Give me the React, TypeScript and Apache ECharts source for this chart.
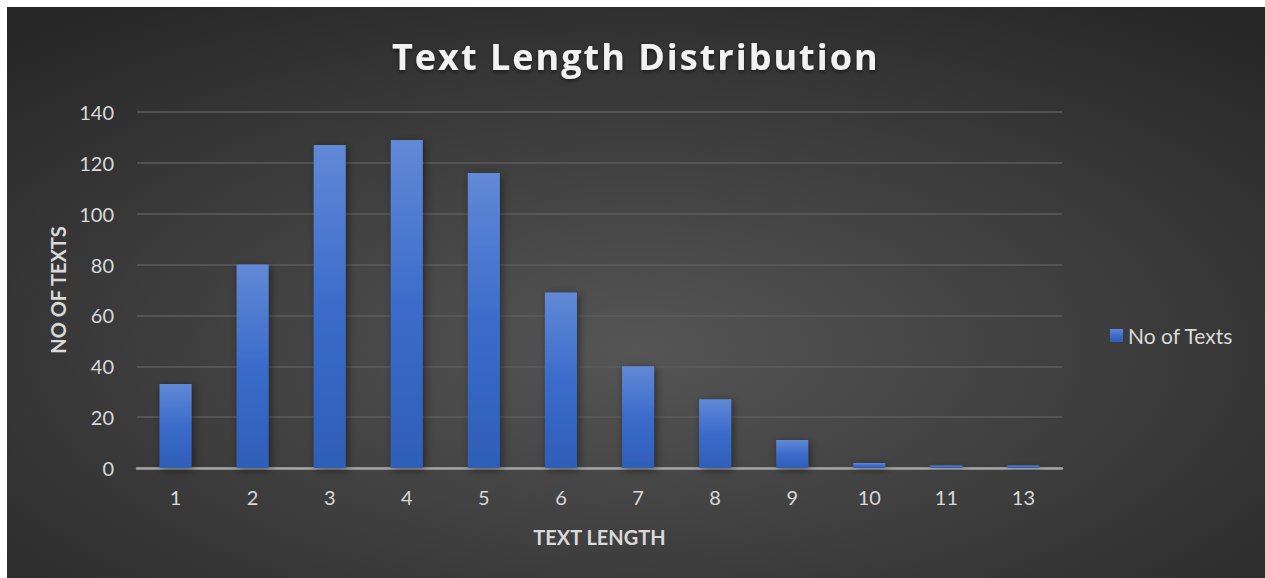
import React, { useEffect, useRef } from "react";
import * as echarts from "echarts";

const categories = ["1", "2", "3", "4", "5", "6", "7", "8", "9", "10", "11", "13"];
const noOfTexts = [33, 80, 127, 129, 116, 69, 40, 27, 11, 2, 1, 1];
const chartTitle = "Text Length Distribution";
const xAxisName = "TEXT LENGTH";
const yAxisName = "NO OF TEXTS";
const seriesName = "No of Texts";

export default function App() {
  const ref = useRef<HTMLDivElement>(null);
  useEffect(() => {
    document.documentElement.style.overflow = "hidden";
    document.body.style.overflow = "hidden";
    if (!ref.current) return;
    const chart = echarts.init(ref.current, null, { renderer: "svg" });
    const font = "Lato, 'Open Sans', sans-serif";
    chart.setOption({
      animation: false,
      backgroundColor: {
        type: "radial",
        x: 0.5,
        y: 0.6,
        r: 0.75,
        colorStops: [
          { offset: 0, color: "#555555" },
          { offset: 1, color: "#262626" },
        ],
      },
      title: {
        text: chartTitle,
        left: 380,
        top: 26,
        textStyle: {
          color: "#f2f2f2",
          fontSize: 36,
          fontWeight: "bold",
          fontFamily: "'Open Sans', Lato, sans-serif",
          textShadowColor: "rgba(0,0,0,0.5)",
          textShadowBlur: 4,
          textShadowOffsetY: 2,
        },
      },
      legend: {
        data: [seriesName],
        left: 1098,
        top: 313,
        orient: "vertical",
        itemWidth: 13,
        itemHeight: 13,
        itemGap: 6,
        textStyle: { color: "#d9d9d9", fontSize: 21, fontFamily: font },
        icon: "rect",
      },
      grid: { left: 130, top: 105, right: 203, bottom: 110, containLabel: false },
      xAxis: {
        type: "category",
        data: categories,
        name: xAxisName,
        nameLocation: "middle",
        nameGap: 59,
        nameTextStyle: { color: "#d9d9d9", fontSize: 20, fontWeight: "bold", fontFamily: font },
        axisTick: { show: false },
        axisLine: { lineStyle: { color: "#a6a6a6", width: 2.5 } },
        axisLabel: { color: "#d9d9d9", fontSize: 20, margin: 19, fontFamily: font },
      },
      yAxis: {
        type: "value",
        min: 0,
        max: 140,
        interval: 20,
        name: yAxisName,
        nameLocation: "middle",
        nameGap: 68,
        nameTextStyle: { color: "#d9d9d9", fontSize: 20, fontWeight: "bold", fontFamily: font },
        axisLine: { show: false },
        axisTick: { show: false },
        axisLabel: { color: "#d9d9d9", fontSize: 20, margin: 23, fontFamily: font },
        splitLine: { lineStyle: { color: "#5c5c5c", width: 1.5 } },
      },
      series: [
        {
          name: seriesName,
          type: "bar",
          data: noOfTexts,
          barWidth: 32,
          itemStyle: {
            color: {
              type: "linear",
              x: 0,
              y: 0,
              x2: 0,
              y2: 1,
              colorStops: [
                { offset: 0, color: "#6189d6" },
                { offset: 0.5, color: "#3b6ccb" },
                { offset: 1, color: "#2e5eb8" },
              ],
            },
            shadowColor: "rgba(0,0,0,0.45)",
            shadowBlur: 8,
            shadowOffsetX: 2,
            shadowOffsetY: 2,
          },
        },
      ],
    });
    return () => chart.dispose();
  }, []);
  return (
    <>
      <style>{`#chartbox text[style*="36px"]{letter-spacing:2px}`}</style>
      <div
        id="chartbox"
        ref={ref}
        style={{ position: "absolute", left: 7, top: 7, width: 1258, height: 571 }}
      />
    </>
  );
}
